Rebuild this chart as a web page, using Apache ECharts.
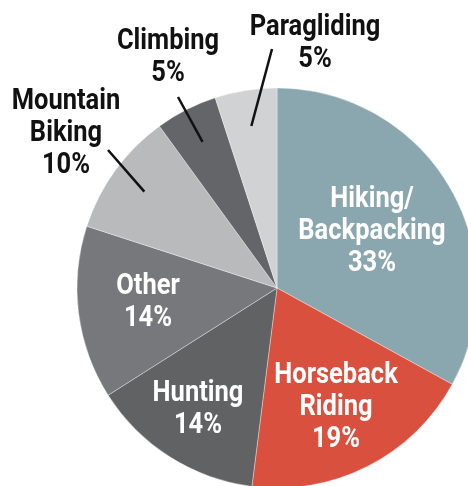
<!DOCTYPE html>
<html>
<head>
<meta charset="utf-8">
<script src="https://cdn.jsdelivr.net/npm/echarts@6/dist/echarts.min.js"></script>
<style>
  html, body { margin: 0; padding: 0; background: #fff; }
  #chart { width: 468px; height: 486px; }
</style>
</head>
<body>
<div id="chart"></div>
<script>
// activity shares, clockwise from 12 o'clock
const activities = ['Hiking/\nBackpacking', 'Horseback\nRiding', 'Hunting', 'Other', 'Mountain\nBiking', 'Climbing', 'Paragliding'];
const shares = [33, 19, 14, 14, 10, 5, 5];
const colors = ['#8aa7af', '#d9503e', '#616264', '#77787b', '#b9babc', '#636569', '#d1d2d4'];
// which labels sit outside the pie with a leader line
const outside = [false, false, false, false, true, true, true];

// label block centres (layout only)
const labelPos = [[372, 231], [336, 407], [198, 409], [148, 302], [66, 133], [168, 57], [315, 43]];
// upper end of the leader lines
const lineEnd = [null, null, null, null, [108, 150], [178, 97], [272, 49]];

const FONT = "Roboto, 'DejaVu Sans', sans-serif";
const CENTER = [277, 288];
// no condensed face installed, so labels get squeezed horizontally
const SQUEEZE = 0.85;

const chart = echarts.init(document.getElementById('chart'));

const labelStyle = {
  fontFamily: FONT,
  fontWeight: 'bold',
  fontSize: 30,
  lineHeight: 32,
  formatter: '{b}\n{c}%'
};

const mainData = activities.map((name, i) => ({
  name: name,
  value: shares[i],
  itemStyle: { color: colors[i] },
  label: { show: !outside[i] }
}));

// invisible inner ring, only used to anchor the leader lines
const guideData = activities.map((name, i) => ({
  name: name,
  value: shares[i],
  label: { show: outside[i] },
  labelLine: { show: outside[i] }
}));

chart.setOption({
  animation: false,
  series: [
    {
      type: 'pie',
      center: CENTER,
      radius: 200,
      startAngle: 90,
      clockwise: true,
      silent: true,
      avoidLabelOverlap: false,
      itemStyle: { borderColor: 'rgba(255,255,255,0.6)', borderWidth: 0.6 },
      label: Object.assign({ position: 'inside', color: '#fff' }, labelStyle),
      labelLine: { show: false },
      labelLayout: (p) => ({
        x: labelPos[p.dataIndex][0],
        y: labelPos[p.dataIndex][1],
        align: 'center',
        verticalAlign: 'middle'
      }),
      data: mainData
    },
    {
      type: 'pie',
      z: 3,
      center: CENTER,
      radius: 164,
      startAngle: 90,
      clockwise: true,
      silent: true,
      avoidLabelOverlap: false,
      itemStyle: { color: 'rgba(0,0,0,0)' },
      label: Object.assign({ position: 'outside', color: '#111' }, labelStyle),
      labelLine: { lineStyle: { color: '#111', width: 2.5 }, length: 10, length2: 10 },
      labelLayout: (p) => {
        const i = p.dataIndex;
        const out = {
          x: labelPos[i][0],
          y: labelPos[i][1],
          align: 'center',
          verticalAlign: 'middle'
        };
        if (lineEnd[i] && p.labelLinePoints) {
          out.labelLinePoints = [p.labelLinePoints[0], lineEnd[i]];
        }
        return out;
      },
      data: guideData
    }
  ]
});

// squeeze label text so it reads like the condensed face in the original
chart.getModel().eachSeries((s) => {
  const data = s.getData();
  data.each((idx) => {
    const el = data.getItemGraphicEl(idx);
    const label = el && el.getTextContent();
    if (label) {
      label.scaleX = SQUEEZE;
      label.markRedraw();
    }
  });
});
chart.getZr().refreshImmediately();
</script>
</body>
</html>
